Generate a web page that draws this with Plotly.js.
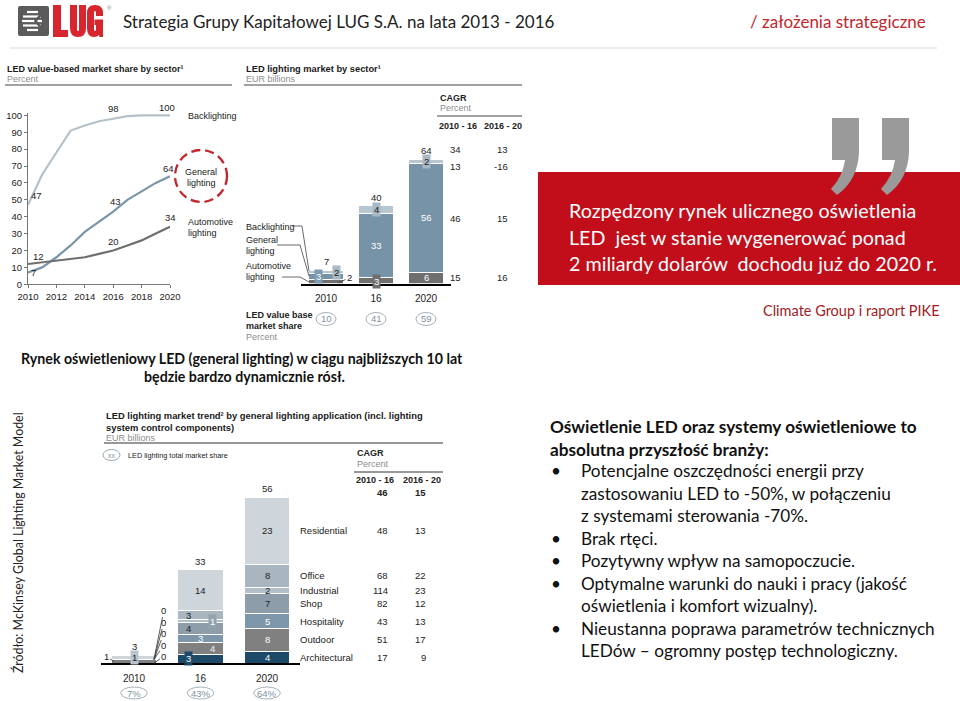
<!DOCTYPE html>
<html><head><meta charset="utf-8">
<script src="https://cdn.plot.ly/plotly-3.0.1.min.js"></script>
<style>html,body{margin:0;padding:0;background:#fff}#chart{width:960px;height:701px}</style>
</head><body><div id="chart"></div>
<script>
// ---------------- DATA ----------------
// Chart 1: LED value-based market share by sector (percent)
const years = [2010, 2011, 2012, 2013, 2014, 2015, 2016, 2017, 2018, 2019, 2020];
const shareBacklighting = [47, 65, 78, 91, 94, 96.5, 98, 99.5, 100, 100, 100];
const shareGeneral = [7, 10, 16, 23, 31, 37, 43, 50, 55, 60, 64];
const shareAutomotive = [12, 13, 14, 15, 16, 18, 20, 23, 26, 30, 34];
const shareYearTicks = [2010, 2012, 2014, 2016, 2018, 2020];
const shareValueTicks = [0, 10, 20, 30, 40, 50, 60, 70, 80, 90, 100];

// Chart 2: LED lighting market by sector (EUR billions)
const sectorPeriods = ['2010', '16', '2020'];
const sectorAutomotive = [2, 3, 6];
const sectorGeneral = [3, 33, 56];
const sectorBacklighting = [2, 4, 2];
const sectorTotals = [7, 40, 64];
const sectorLedShare = ['10', '41', '59'];
const sectorCagr1016 = ['34', '13', '46', '15'];   // total, backlighting, general, automotive
const sectorCagr1620 = ['13', '-16', '15', '16'];

// Chart 3: LED lighting market trend by general lighting application (EUR billions)
const appPeriods = ['2010', '16', '2020'];
const appNames = ['Architectural', 'Outdoor', 'Hospitality', 'Shop', 'Industrial', 'Office', 'Residential'];
const appArchitectural = [0, 3, 4];
const appOutdoor = [1.3, 4, 8];
const appHospitality = [0, 3, 5];
const appShop = [0, 4, 7];
const appIndustrial = [0, 1, 2];
const appOffice = [0, 3, 8];
const appResidential = [1.4, 14, 23];
const appTotals = [3, 33, 56];
const appTotalShare = ['7%', '43%', '64%'];
const appCagr1016 = ['17', '51', '43', '82', '114', '68', '48'];
const appCagr1620 = ['9', '17', '13', '12', '23', '22', '13'];
const appCagrTotal = ['46', '15'];

// ---------------- HELPERS ----------------
const W = 960, H = 701;
const FA = 'Liberation Sans, Arial, sans-serif';
const FC = 'Lato, Carlito, Calibri, sans-serif';
const px = x => x / W, py = y => 1 - y / H;
const ann = [], shp = [];
function T(text, x, y, o = {}) {
  ann.push({xref: 'paper', yref: 'paper', x: px(x), y: py(y), text: text, showarrow: false,
    xanchor: o.xa || 'left', yanchor: o.ya || 'middle', textangle: o.rot || 0,
    font: {family: o.f || FA, size: o.s || 9.5, color: o.c || '#222'}});
}
function L(x0, y0, x1, y1, c, w, dash) {
  shp.push({type: 'line', xref: 'paper', yref: 'paper', x0: px(x0), y0: py(y0), x1: px(x1), y1: py(y1),
    line: {color: c, width: w, dash: dash || 'solid'}});
}
function toPaper(d) { let i = 0; return d.replace(/-?\d+(\.\d+)?/g, m => { const v = parseFloat(m); const r = (i % 2 === 0) ? px(v) : py(v); i++; return r.toFixed(5); }); }
function P(d, fill, lc, lw) {
  shp.push({type: 'path', xref: 'paper', yref: 'paper', path: toPaper(d), fillcolor: fill || 'rgba(0,0,0,0)',
    line: {color: lc || 'rgba(0,0,0,0)', width: lw || 0}});
}
function cum(series, k, i) { let s = 0; for (let j = 0; j < k; j++) s += series[j][i]; return s; }

// ---------------- HEADER ----------------
P('M20 6 L47 6 Q49 6 49 8 L49 34 Q49 36 47 36 L20 36 Q18 36 18 34 L18 8 Q18 6 20 6 Z', '#5b5b5b');
[[12, 27, 38], [16.5, 23, 41], [21, 22, 42], [25.5, 23, 41], [30, 27, 38]].forEach(s => L(s[1], s[0], s[2], s[0], '#ffffff', 2.2));
P('M44 11 L35.5 21 L44 31', null, '#5b5b5b', 2.6);
P('M53 5 L61 5 L61 30 L68 30 L68 37 L53 37 Z', '#d7262d');
P('M70 5 L77 5 L77 29.5 Q77 31 78 31 Q79 31 79 29.5 L79 5 L86 5 L86 28 Q86 37 78 37 Q70 37 70 28 Z', '#d7262d');
P('M95 5 Q103 5 103 13 L103 16 L96 16 L96 12.5 Q96 11 95 11 Q94 11 94 12.5 L94 29.5 Q94 31 95 31 Q96 31 96 29.5 L96 25 L94.5 25 L94.5 19.5 L103 19.5 L103 37 L99.5 37 L99 35 Q97.5 37 94 37 Q87 37 87 28 L87 13 Q87 5 95 5 Z', '#d7262d');
T('®', 104.5, 8, {s: 6, c: '#888'});
T('Strategia Grupy Kapitałowej LUG S.A. na lata 2013 - 2016', 121, 21, {f: FC, s: 17, c: '#222'});
T('/ założenia strategiczne', 928, 21, {f: FC, s: 17, c: '#c0272d', xa: 'right'});
L(10, 48, 937, 48, '#d9d9d9', 1);

// ---------------- CHART 1 ----------------
T('<b>LED value-based market share by sector¹</b>', 5, 69, {s: 9, c: '#1a1a1a'});
T('Percent', 5, 79, {s: 9, c: '#8c8c8c'});
L(5, 85, 232, 85, '#444', 1);
const lastI = years.length - 1, midI = years.indexOf(2016);
function vl(x, y, t, xs, ys) { ann.push({xref: 'x', yref: 'y', x: x, y: y, text: String(t), showarrow: false, xanchor: 'center', yanchor: 'middle', xshift: xs, yshift: ys, font: {family: FA, size: 9.5, color: '#222'}}); }
vl(years[0], shareBacklighting[0], shareBacklighting[0], 8, 9);
vl(years[midI], shareBacklighting[midI], shareBacklighting[midI], 0, 10);
vl(years[lastI], shareBacklighting[lastI], shareBacklighting[lastI], -3, 8);
vl(years[0], shareGeneral[0], shareGeneral[0], 5, 0);
vl(years[midI], shareGeneral[midI], shareGeneral[midI], 2, 10);
vl(years[lastI], shareGeneral[lastI], shareGeneral[lastI], -2, 8);
vl(years[0], shareAutomotive[0], shareAutomotive[0], 10, 8);
vl(years[midI], shareAutomotive[midI], shareAutomotive[midI], 0, 9);
vl(years[lastI], shareAutomotive[lastI], shareAutomotive[lastI], 0, 9);
T('Backlighting', 186, 116, {s: 9});
T('General', 201, 172, {s: 9, xa: 'center'});
T('lighting', 201, 183, {s: 9, xa: 'center'});
T('Automotive', 186, 222, {s: 9});
T('lighting', 186, 233, {s: 9});
shp.push({type: 'circle', xref: 'paper', yref: 'paper', x0: px(175), x1: px(227), y0: py(202), y1: py(150),
  line: {color: '#c0272d', width: 2.3, dash: '9px,5px'}});

// ---------------- CHART 2 ----------------
T('<b>LED lighting market by sector¹</b>', 244, 69, {s: 9.3, c: '#1a1a1a'});
T('EUR billions', 244, 79, {s: 9, c: '#8c8c8c'});
L(244, 85, 522, 85, '#444', 1);
T('<b>CAGR</b>', 438, 98, {s: 9});
T('Percent', 438, 108, {s: 9, c: '#8c8c8c'});
L(437, 116, 522, 116, '#444', 1);
T('<b>2010 - 16</b>', 458, 126, {s: 9, xa: 'center'});
T('<b>2016 - 20</b>', 503, 126, {s: 9, xa: 'center'});
const sectorRowY = [150, 166, 218, 277];
sectorRowY.forEach((y, k) => { T(sectorCagr1016[k], 463, y, {xa: 'right'}); T(sectorCagr1620[k], 510, y, {xa: 'right'}); });
T('Backlighting', 244, 227, {s: 9});
T('General', 244, 240, {s: 9});
T('lighting', 244, 251, {s: 9});
T('Automotive', 244, 266, {s: 9});
T('lighting', 244, 277, {s: 9});
P('M292 226 L302 226 L309 271', null, '#444', 0.8);
P('M277 245 L300 245 L309 276', null, '#444', 0.8);
P('M282 277 L300 277 L309 282', null, '#444', 0.8);
T('<b>LED value base</b>', 244, 315, {s: 9});
T('<b>market share</b>', 244, 326, {s: 9});
T('Percent', 244, 337, {s: 9, c: '#8c8c8c'});

const sectorSeries = [sectorAutomotive, sectorGeneral, sectorBacklighting];
const sectorColors = ['#6f6f6f', '#7693a8', '#b8c6d0'];
const sectorLabelStyle = [
  [null, {bg: '#6f6f6f', c: '#fff', xs: 0, ys: -1}, {c: '#fff', xs: 0}],
  [{bg: '#7f9bb0', c: '#fff', xs: -8}, {c: '#fff', xs: 0}, {c: '#fff', xs: 0}],
  [{bg: '#a9b9c4', c: '#222', xs: 10}, {bg: '#a9b9c4', c: '#222', xs: 0}, {bg: '#a9b9c4', c: '#222', xs: 0}]
];
sectorSeries.forEach((ser, k) => {
  ser.forEach((v, i) => {
    const st = sectorLabelStyle[k][i];
    if (!st) return;
    ann.push({xref: 'x2', yref: 'y2', x: i, y: cum(sectorSeries, k, i) + v / 2, text: String(v), showarrow: false,
      xanchor: 'center', yanchor: 'middle', xshift: st.xs, yshift: st.ys || 0, bgcolor: st.bg || 'rgba(0,0,0,0)', borderpad: 1,
      font: {family: FA, size: 9.5, color: st.c}});
  });
});
ann.push({xref: 'x2', yref: 'y2', x: 0.25, y: sectorAutomotive[0] / 4, text: String(sectorAutomotive[0]), showarrow: true,
  arrowhead: 0, arrowwidth: 0.8, arrowcolor: '#333', ax: 11, ay: -5, standoff: 0, startstandoff: 0,
  font: {family: FA, size: 9.5, color: '#222'}});
sectorTotals.forEach((t, i) => ann.push({xref: 'x2', yref: 'y2', x: i, y: cum(sectorSeries, 3, i), text: String(t),
  showarrow: false, xanchor: 'center', yanchor: 'bottom', yshift: 1, font: {family: FA, size: 9.5, color: '#222'}}));
sectorLedShare.forEach((s, i) => {
  shp.push({type: 'circle', xref: 'x2', yref: 'paper', x0: i - 0.2, x1: i + 0.2, y0: py(325.5), y1: py(312.5), line: {color: '#a5b2bb', width: 1}});
  ann.push({xref: 'x2', yref: 'paper', x: i, y: py(319), text: s, showarrow: false, xanchor: 'center', yanchor: 'middle', font: {family: FA, size: 9.5, color: '#7f93a2'}});
});

// ---------------- CHART 3 ----------------
T('<b>LED lighting market trend² by general lighting application (incl. lighting</b>', 104, 415, {s: 9.4, c: '#1a1a1a'});
T('<b>system control components)</b>', 104, 427, {s: 9.4, c: '#1a1a1a'});
T('EUR billions', 104, 438, {s: 9, c: '#8c8c8c'});
L(104, 443, 443, 443, '#333', 1);
shp.push({type: 'circle', xref: 'paper', yref: 'paper', x0: px(103), x1: px(120), y0: py(460.5), y1: py(449.5), line: {color: '#9aa7b0', width: 1}});
T('xx', 111.5, 455, {s: 7, c: '#8a98a2', xa: 'center'});
T('LED lighting total market share', 126, 455, {s: 7.3});
T('<b>CAGR</b>', 355, 453, {s: 9});
T('Percent', 355, 464, {s: 9, c: '#8c8c8c'});
L(354, 472, 443, 472, '#333', 1);
T('<b>2010 - 16</b>', 375, 480, {s: 9, xa: 'center'});
T('<b>2016 - 20</b>', 422, 480, {s: 9, xa: 'center'});
T('<b>' + appCagrTotal[0] + '</b>', 390, 492, {xa: 'right'});
T('<b>' + appCagrTotal[1] + '</b>', 428, 492, {xa: 'right'});

const appSeries = [appArchitectural, appOutdoor, appHospitality, appShop, appIndustrial, appOffice, appResidential];
const appColors = ['#1c4a68', '#808080', '#7d96a9', '#8d9daa', '#b3bfc8', '#a9b6c0', '#ced6dc'];
const last = appPeriods.length - 1;
appNames.forEach((n, k) => {
  const y = cum(appSeries, k, last) + appSeries[k][last] / 2;
  ann.push({xref: 'paper', yref: 'y3', x: px(298), y: y, text: n, showarrow: false, xanchor: 'left', yanchor: 'middle', font: {family: FA, size: 9.5, color: '#222'}});
  ann.push({xref: 'paper', yref: 'y3', x: px(390), y: y, text: appCagr1016[k], showarrow: false, xanchor: 'right', yanchor: 'middle', font: {family: FA, size: 9.5, color: '#222'}});
  ann.push({xref: 'paper', yref: 'y3', x: px(428), y: y, text: appCagr1620[k], showarrow: false, xanchor: 'right', yanchor: 'middle', font: {family: FA, size: 9.5, color: '#222'}});
});
const appLabelStyle = [
  [null, {bg: '#1c4a68', c: '#fff', xs: -12}, {c: '#fff', xs: 0}],
  [null, {c: '#eef1f3', xs: 12}, {c: '#fff', xs: 0}],
  [null, {c: '#fff', xs: 0}, {c: '#fff', xs: 0}],
  [null, {c: '#222', xs: -12}, {c: '#222', xs: 0}],
  [null, {bg: '#93a3ae', c: '#fff', xs: 12}, {c: '#222', xs: 0}],
  [null, {c: '#222', xs: -12}, {c: '#222', xs: 0}],
  [{bg: '#b9c4cc', c: '#222', xs: 0}, {c: '#222', xs: 0}, {c: '#222', xs: 0}]
];
appSeries.forEach((ser, k) => {
  ser.forEach((v, i) => {
    const st = appLabelStyle[k][i];
    if (!st) return;
    ann.push({xref: 'x3', yref: 'y3', x: i, y: cum(appSeries, k, i) + v / 2, text: String(Math.round(v)), showarrow: false,
      xanchor: 'center', yanchor: 'middle', xshift: st.xs, bgcolor: st.bg || 'rgba(0,0,0,0)', borderpad: 1, font: {family: FA, size: 9.5, color: st.c}});
  });
});
const zeroOrder = [0, 2, 3, 4, 5];
const zeroTextY = [656, 645, 633, 622, 610];
zeroOrder.forEach((k, j) => {
  const yv = cum(appSeries, k, 0);
  const headPx = 663.3 - yv * 2.917;
  ann.push({xref: 'x3', yref: 'y3', x: 0.3, y: yv, text: String(appSeries[k][0]), showarrow: true, arrowhead: 0, arrowwidth: 0.8,
    arrowcolor: '#333', ax: 10, ay: zeroTextY[j] - headPx, standoff: 0, startstandoff: 0, font: {family: FA, size: 9.5, color: '#222'}});
});
ann.push({xref: 'x3', yref: 'y3', x: -0.3, y: appOutdoor[0] / 2, text: String(Math.round(appOutdoor[0])), showarrow: true, arrowhead: 0,
  arrowwidth: 0.8, arrowcolor: '#333', ax: -8, ay: -5, standoff: 0, startstandoff: 0, font: {family: FA, size: 9.5, color: '#222'}});
appTotals.forEach((t, i) => ann.push({xref: 'x3', yref: 'y3', x: i, y: cum(appSeries, 7, i), text: String(t), showarrow: false,
  xanchor: 'center', yanchor: 'bottom', yshift: 1, font: {family: FA, size: 9.5, color: '#222'}}));
appTotalShare.forEach((s, i) => {
  shp.push({type: 'circle', xref: 'x3', yref: 'paper', x0: i - 0.2, x1: i + 0.2, y0: py(699), y1: py(687), line: {color: '#a5b2bb', width: 1}});
  ann.push({xref: 'x3', yref: 'paper', x: i, y: py(693), text: s, showarrow: false, xanchor: 'center', yanchor: 'middle', font: {family: FA, size: 9.5, color: '#7f93a2'}});
});

// ---------------- TEXT BLOCKS ----------------
T('<b>Rynek oświetleniowy LED (general lighting) w ciągu najbliższych 10 lat</b>', 242, 358, {f: FC, s: 14.2, xa: 'center', c: '#111'});
T('<b>będzie bardzo dynamicznie rósł.</b>', 245, 376, {f: FC, s: 14.2, xa: 'center', c: '#111'});
T('Źródło: McKinsey Global Lighting Market Model', 18, 543, {f: FC, s: 12.4, xa: 'center', rot: -90, c: '#222'});

shp.push({type: 'rect', xref: 'paper', yref: 'paper', x0: px(538), x1: px(960), y0: py(285), y1: py(172), fillcolor: '#c20e1a', line: {width: 0}});
P('M832 118 L859 118 L859 152 Q858 180 837 195 L831 189 Q843 176 845 160 L832 160 Z', '#9a9a9a');
P('M882 118 L909 118 L909 152 Q908 180 887 195 L881 189 Q893 176 895 160 L882 160 Z', '#9a9a9a');
T('Rozpędzony rynek ulicznego oświetlenia', 567, 210, {f: FC, s: 19.7, c: '#fff'});
T('LED  jest w stanie wygenerować ponad', 567, 237, {f: FC, s: 19.7, c: '#fff'});
T('2 miliardy dolarów  dochodu już do 2020 r.', 567, 263, {f: FC, s: 19.7, c: '#fff'});
T('Climate Group i raport PIKE', 942, 311, {f: FC, s: 14.5, c: '#a31a22', xa: 'right'});

T('<b>Oświetlenie LED oraz systemy oświetleniowe to</b>', 548, 426, {f: FC, s: 17.2, c: '#111'});
T('<b>absolutna przyszłość branży:</b>', 548, 449, {f: FC, s: 17.2, c: '#111'});
const bulletLines = [
  ['•', 'Potencjalne oszczędności energii przy', 471],
  ['', 'zastosowaniu LED to -50%, w połączeniu', 493],
  ['', 'z systemami sterowania -70%.', 515],
  ['•', 'Brak rtęci.', 538],
  ['•', 'Pozytywny wpływ na samopoczucie.', 560],
  ['•', 'Optymalne warunki do nauki i pracy (jakość', 583],
  ['', 'oświetlenia i komfort wizualny).', 605],
  ['•', 'Nieustanna poprawa parametrów technicznych', 628],
  ['', 'LEDów – ogromny postęp technologiczny.', 650]
];
bulletLines.forEach(b => { if (b[0]) T(b[0], 549, b[2], {f: FC, s: 17.2, c: '#111'}); T(b[1], 579, b[2], {f: FC, s: 17.2, c: '#111'}); });

// ---------------- TRACES ----------------
const traces = [
  {type: 'scatter', mode: 'lines', x: years, y: shareBacklighting, xaxis: 'x', yaxis: 'y', line: {color: '#b5c1c9', width: 2.2}, hoverinfo: 'skip'},
  {type: 'scatter', mode: 'lines', x: years, y: shareGeneral, xaxis: 'x', yaxis: 'y', line: {color: '#7a95a8', width: 2.2}, hoverinfo: 'skip'},
  {type: 'scatter', mode: 'lines', x: years, y: shareAutomotive, xaxis: 'x', yaxis: 'y', line: {color: '#6f6f6f', width: 2.2}, hoverinfo: 'skip'}
];
sectorSeries.forEach((ser, k) => traces.push({type: 'bar', x: sectorPeriods, y: ser, xaxis: 'x2', yaxis: 'y2', width: 0.7,
  marker: {color: sectorColors[k], line: {color: '#ffffff', width: 1}}, hoverinfo: 'skip'}));
appSeries.forEach((ser, k) => traces.push({type: 'bar', x: appPeriods, y: ser, xaxis: 'x3', yaxis: 'y3', width: 0.69,
  marker: {color: appColors[k], line: {color: '#ffffff', width: 1}}, hoverinfo: 'skip'}));

const tf = {family: FA, size: 9.5, color: '#222'};
const layout = {
  width: W, height: H, margin: {l: 0, r: 0, t: 0, b: 0}, paper_bgcolor: '#fff', plot_bgcolor: 'rgba(0,0,0,0)',
  showlegend: false, barmode: 'stack',
  xaxis: {domain: [px(28), px(170)], range: [2010, 2020], tickvals: shareYearTicks, ticks: 'outside', ticklen: 3, tickcolor: '#777',
    showline: true, linecolor: '#777', linewidth: 1, showgrid: false, zeroline: false, tickfont: tf, anchor: 'y', fixedrange: true},
  yaxis: {domain: [py(284.3), py(112.8)], range: [0, 101.5], tickvals: shareValueTicks, ticks: 'outside', ticklen: 3, tickcolor: '#777',
    showline: true, linecolor: '#777', linewidth: 1, showgrid: false, zeroline: false, tickfont: tf, anchor: 'x', fixedrange: true},
  xaxis2: {domain: [px(301), px(451)], type: 'category', range: [-0.5, 2.5], showline: true, linecolor: '#000', linewidth: 2, ticks: '',
    ticklabelstandoff: 4, showgrid: false, zeroline: false, tickfont: {family: FA, size: 10, color: '#222'}, anchor: 'y2', fixedrange: true},
  yaxis2: {domain: [py(283.7), py(147.6)], range: [0, 70], visible: false, anchor: 'x2', fixedrange: true},
  xaxis3: {domain: [px(100.75), px(300.25)], type: 'category', range: [-0.5, 2.5], showline: true, linecolor: '#000', linewidth: 2, ticks: '',
    ticklabelstandoff: 5, showgrid: false, zeroline: false, tickfont: {family: FA, size: 10, color: '#222'}, anchor: 'y3', fixedrange: true},
  yaxis3: {domain: [py(663.3), py(488.3)], range: [0, 60], visible: false, anchor: 'x3', fixedrange: true},
  annotations: ann, shapes: shp
};
Plotly.newPlot('chart', traces, layout, {displayModeBar: false, staticPlot: true});
</script>
</body></html>
